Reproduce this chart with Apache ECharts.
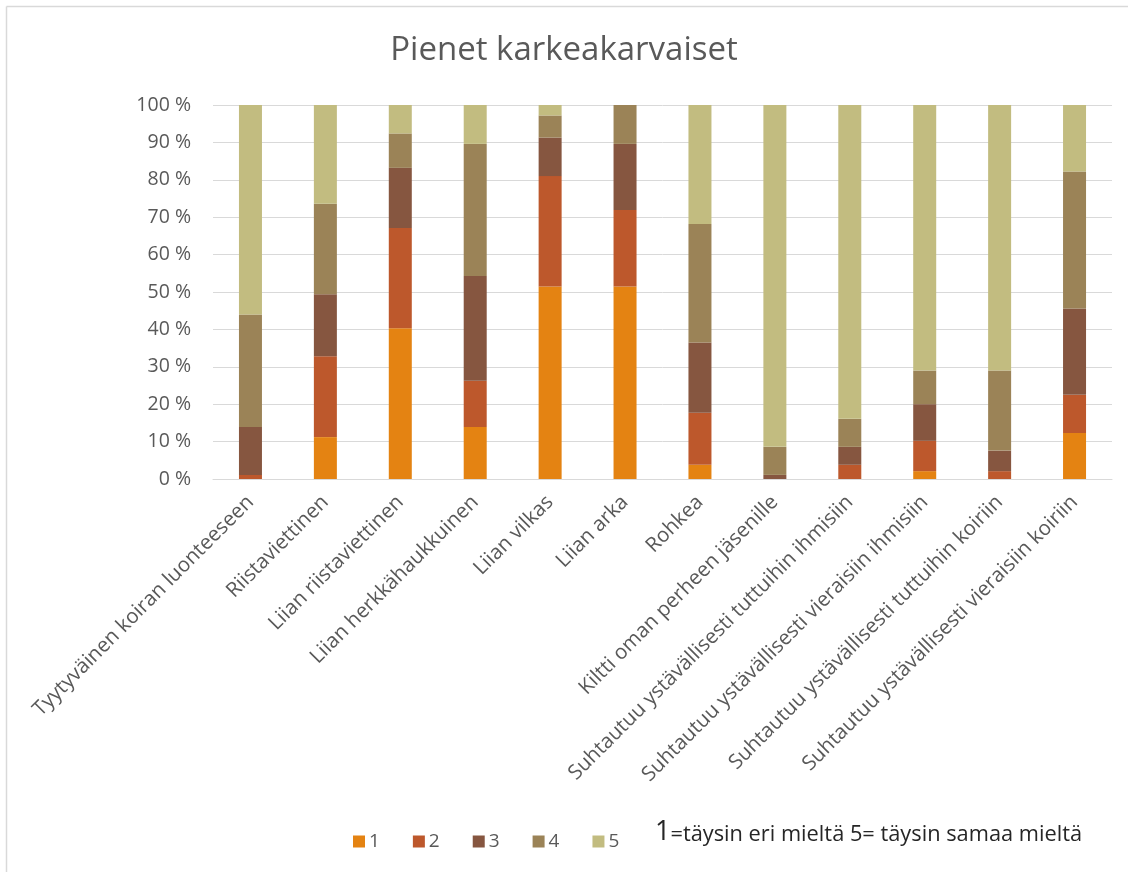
<!DOCTYPE html>
<html>
<head>
<meta charset="utf-8">
<title>Pienet karkeakarvaiset</title>
<script src="https://cdn.jsdelivr.net/npm/echarts@6/dist/echarts.min.js"></script>
<style>
  html, body { margin: 0; padding: 0; background: #fff; }
  #chart { width: 1128px; height: 872px; }
</style>
</head>
<body>
<div id="chart"></div>
<script>
const categories = [
  'Tyytyväinen koiran luonteeseen',
  'Riistaviettinen',
  'Liian riistaviettinen',
  'Liian herkkähaukkuinen',
  'Liian vilkas',
  'Liian arka',
  'Rohkea',
  'Kiltti oman perheen jäsenille',
  'Suhtautuu ystävällisesti tuttuihin ihmisiin',
  'Suhtautuu ystävällisesti vieraisiin ihmisiin',
  'Suhtautuu ystävällisesti tuttuihin koiriin',
  'Suhtautuu ystävällisesti vieraisiin koiriin'
]

// osuudet prosentteina, vastaus 1..5
const s1 = [0, 11.2, 40.3, 13.9, 51.5, 51.5, 3.8, 0, 0, 2.1, 0, 12.3]
const s2 = [1.1, 21.6, 26.8, 12.4, 29.5, 20.4, 13.9, 0, 3.8, 8.1, 2.1, 10.2]
const s3 = [12.8, 16.6, 16.1, 28.0, 10.3, 17.7, 18.8, 1.1, 4.8, 9.8, 5.5, 23.1]
const s4 = [30.1, 24.2, 9.2, 35.3, 5.9, 10.4, 31.7, 7.5, 7.5, 9.0, 21.4, 36.6]
const s5 = [56.0, 26.4, 7.6, 10.4, 2.8, 0, 31.8, 91.4, 83.9, 71.0, 71.0, 17.8]

const seriesNames = ['1', '2', '3', '4', '5']
const colors = ['#E48312', '#BD582C', '#865640', '#9B8357', '#C2BC80']
const yTicks = [0, 10, 20, 30, 40, 50, 60, 70, 80, 90, 100]

const font = '"Open Sans", Lato, sans-serif'
const chart = echarts.init(document.getElementById('chart'))

const option = {
  animation: false,
  color: colors,
  title: {
    text: 'Pienet karkeakarvaiset',
    left: 'center',
    top: 29,
    textStyle: { color: '#595959', fontSize: 33, fontWeight: 'normal', fontFamily: font }
  },
  legend: {
    left: 348,
    top: 827,
    itemWidth: 12,
    itemHeight: 12,
    itemGap: 33,
    icon: 'rect',
    data: seriesNames,
    textStyle: { color: '#595959', fontSize: 19, fontFamily: font, padding: [0, 0, 0, -1] }
  },
  grid: { left: 213, right: 16, top: 105, bottom: 393, containLabel: false },
  xAxis: {
    type: 'category',
    data: categories,
    axisTick: { show: false },
    axisLine: { lineStyle: { color: '#d9d9d9' } },
    axisLabel: {
      interval: 0,
      rotate: 45,
      margin: 20,
      color: '#595959',
      fontSize: 20.5,
      fontFamily: font
    }
  },
  yAxis: {
    type: 'value',
    min: yTicks[0],
    max: yTicks[yTicks.length - 1],
    interval: 10,
    axisLine: { show: false },
    axisTick: { show: false },
    splitLine: { lineStyle: { color: '#d9d9d9', width: 1 } },
    axisLabel: {
      margin: 22,
      color: '#595959',
      fontSize: 19.5,
      fontFamily: font,
      formatter: v => v + ' %'
    }
  },
  series: [s1, s2, s3, s4, s5].map((d, i) => ({
    name: seriesNames[i],
    type: 'bar',
    stack: 'total',
    barWidth: 23,
    data: d,
    itemStyle: { color: colors[i] }
  })),
  graphic: [
    {
      type: 'line',
      shape: { x1: 6.5, y1: 6.5, x2: 1128, y2: 6.5 },
      style: { stroke: '#d9d9d9', lineWidth: 1.5 }
    },
    {
      type: 'line',
      shape: { x1: 6.5, y1: 6.5, x2: 6.5, y2: 872 },
      style: { stroke: '#d9d9d9', lineWidth: 1.5 }
    },
    {
      type: 'text',
      left: 655,
      top: 819,
      style: {
        text: '{a|1}{b|=täysin eri mieltä 5= täysin samaa mieltä}',
        rich: {
          a: { fontSize: 27, fill: '#262626', fontFamily: font },
          b: { fontSize: 21.8, fill: '#262626', fontFamily: font, padding: [4, 0, 0, 0] }
        }
      }
    }
  ]
}

chart.setOption(option)
</script>
</body>
</html>
